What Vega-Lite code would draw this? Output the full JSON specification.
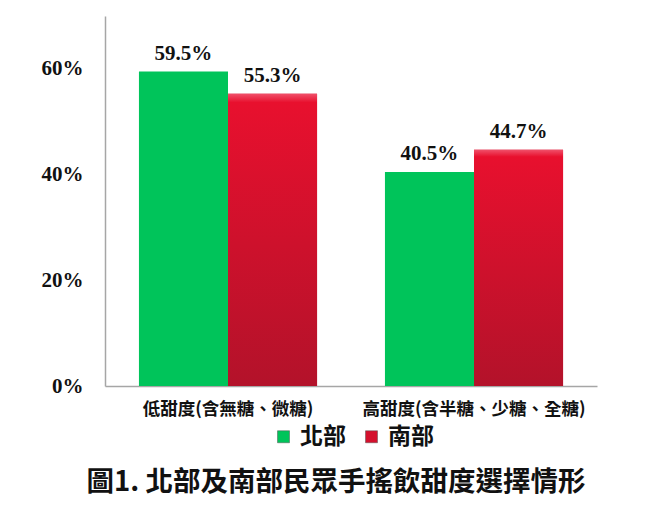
{
  "$schema": "https://vega.github.io/schema/vega-lite/v6.json",
  "width": 492,
  "height": 370,
  "autosize": {"type": "none"},
  "padding": {"left": 105, "top": 16, "right": 63, "bottom": 131},
  "background": "white",
  "data": {"values": [
    {"category": "低甜度(含無糖、微糖)", "region": "北部", "value": 0.595},
    {"category": "低甜度(含無糖、微糖)", "region": "南部", "value": 0.553},
    {"category": "高甜度(含半糖、少糖、全糖)", "region": "北部", "value": 0.405},
    {"category": "高甜度(含半糖、少糖、全糖)", "region": "南部", "value": 0.447}
  ]},
  "title": {
    "text": "圖1. 北部及南部民眾手搖飲甜度選擇情形",
    "orient": "bottom",
    "anchor": "middle",
    "font": "Noto Sans CJK TC",
    "fontSize": 27.5,
    "fontWeight": "bold",
    "color": "#111111",
    "offset": 20,
    "dx": -15
  },
  "config": {"view": {"stroke": null}},
  "encoding": {
    "x": {
      "field": "category", "type": "nominal", "sort": null,
      "scale": {"paddingInner": 0.276, "paddingOuter": 0.138},
      "axis": {
        "title": null, "labelAngle": 0, "ticks": false, "labelLimit": 0,
        "domainColor": "#A6A6A6", "domainWidth": 1.5,
        "labelFont": "Noto Sans CJK TC", "labelFontSize": 17.5, "labelFontWeight": "bold",
        "labelColor": "#111111", "labelPadding": 14
      }
    },
    "xOffset": {"field": "region", "type": "nominal", "sort": ["北部", "南部"], "scale": {"padding": 0, "paddingInner": 0, "paddingOuter": 0}},
    "y": {
      "field": "value", "type": "quantitative",
      "scale": {"domain": [0, 0.7], "nice": false},
      "axis": {
        "title": null, "values": [0, 0.2, 0.4, 0.6], "format": ".0%",
        "grid": false, "ticks": false,
        "domainColor": "#A6A6A6", "domainWidth": 1.5,
        "labelFont": "Liberation Serif", "labelFontSize": 21, "labelFontWeight": "bold",
        "labelColor": "#111111", "labelPadding": 22
      }
    }
  },
  "layer": [
    {
      "mark": {"type": "bar"},
      "encoding": {
        "color": {
          "field": "region", "type": "nominal", "sort": ["北部", "南部"],
          "scale": {"domain": ["北部", "南部"], "range": ["#00C45A", "#D4112D"]},
          "legend": {
            "title": null, "orient": "none", "direction": "horizontal",
            "legendX": 167, "legendY": 409,
            "symbolType": "square", "symbolSize": 144, "symbolStrokeColor": "#555555", "symbolStrokeWidth": 0.5,
            "labelFont": "Noto Sans CJK TC", "labelFontSize": 23, "labelFontWeight": "bold",
            "labelColor": "#111111", "columnPadding": 14, "labelOffset": 5
          }
        }
      }
    },
    {
      "transform": [{"filter": "datum.region === '南部'"}],
      "mark": {
        "type": "bar",
        "fill": {
          "gradient": "linear", "x1": 0, "y1": 0, "x2": 0, "y2": 1,
          "stops": [
            {"offset": 0, "color": "#F0506A"},
            {"offset": 0.03, "color": "#E8102E"},
            {"offset": 1, "color": "#B3122A"}
          ]
        }
      }
    },
    {
      "mark": {
        "type": "text", "baseline": "alphabetic", "dy": -12,
        "font": "Liberation Serif", "fontSize": 21, "fontWeight": "bold", "color": "#111111"
      },
      "encoding": {
        "text": {"field": "value", "type": "quantitative", "format": ".1%"}
      }
    }
  ]
}
